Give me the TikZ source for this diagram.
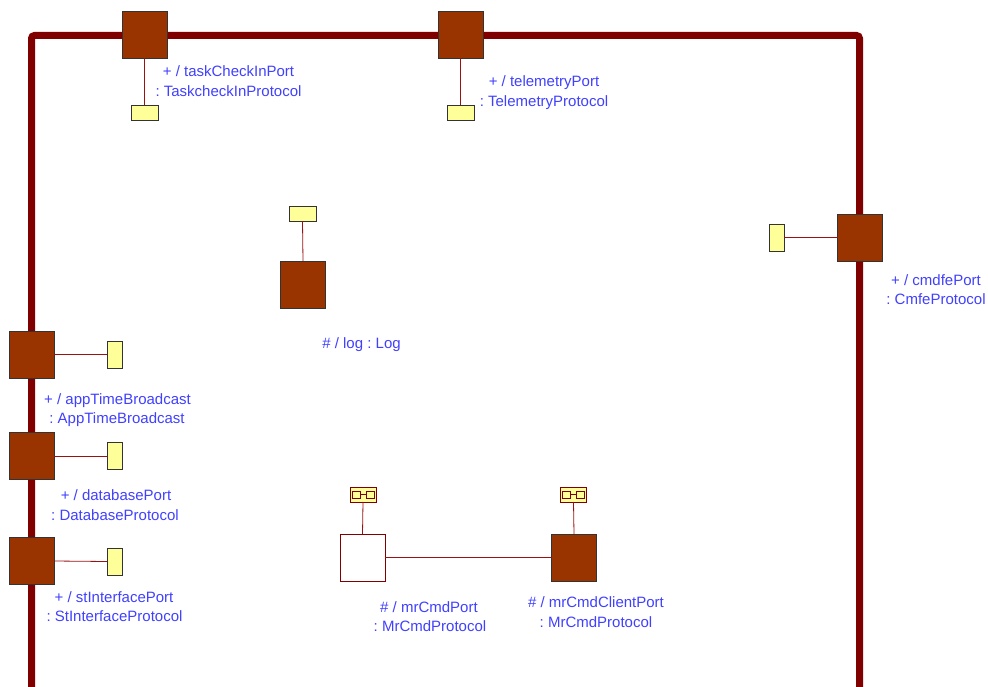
\documentclass[tikz,border=0pt]{standalone}
\usepackage{fontspec}
\setmainfont{Liberation Sans}
\frenchspacing
\definecolor{framered}{RGB}{128,0,0}
\definecolor{portfill}{RGB}{153,51,0}
\definecolor{portedge}{RGB}{51,51,51}
\definecolor{endfill}{RGB}{255,255,153}
\definecolor{linkred}{RGB}{153,17,17}
\definecolor{lblblue}{RGB}{64,64,255}
\begin{document}
\begin{tikzpicture}[x=1pt,y=-1pt,
  port/.style={draw=portedge, fill=portfill, line width=0.9pt,
    minimum width=45pt, minimum height=47pt, inner sep=0pt, outer sep=0pt},
  hollowport/.style={port, draw=framered, fill=white},
  endh/.style={draw=portedge, fill=endfill, line width=0.8pt,
    minimum width=27pt, minimum height=15pt, inner sep=0pt, outer sep=0pt},
  endv/.style={endh, minimum width=15pt, minimum height=27pt},
  relayicon/.style={endh, minimum width=26pt, draw=framered,
    path picture={
      \draw[framered, line width=0.8pt]
        (path picture bounding box.center) ++(-11,-3.5) rectangle ++(8,7)
        (path picture bounding box.center) ++(-3,0) -- ++(6,0)
        (path picture bounding box.center) ++(3,-3.5) rectangle ++(8,7);
    }},
  link/.style={draw=linkred, line width=0.8pt},
  lbl/.style={text=lblblue, font=\fontsize{15}{18}\selectfont, anchor=base, inner sep=0pt},
]
\useasboundingbox (0,0) rectangle (988,687);
\clip (0,0) rectangle (988,687);

% capsule boundary
\draw[framered, line width=7pt, rounded corners=3pt]
  (31.5,700) -- (31.5,35.5) -- (859.5,35.5) -- (859.5,700);

% boundary ports with their connection ends
\node[port] (taskport) at (144.5,34.5) {};
\node[endh] (taskend) at (144.5,112.5) {};
\draw[link] (taskport.south) -- (taskend.north);
\node[lbl] (tasklbla) at (228.5,77) {+ / taskCheckInPort};
\node[lbl] (tasklblb) at (228.5,96.5) {: TaskcheckInProtocol};

\node[port] (telport) at (460.5,34.5) {};
\node[endh] (telend) at (460.5,112.5) {};
\draw[link] (telport.south) -- (telend.north);
\node[lbl] (tellbla) at (544,86.5) {+ / telemetryPort};
\node[lbl] (tellblb) at (544,107) {: TelemetryProtocol};

\node[port] (cmdfeport) at (860,237.5) {};
\node[endv] (cmdfeend) at (776.5,237.5) {};
\draw[link] (cmdfeport.west) -- (cmdfeend.east);
\node[lbl] (cmdfelbla) at (936,285) {+ / cmdfePort};
\node[lbl] (cmdfelblb) at (936,304) {: CmfeProtocol};

\node[port] (timeport) at (31.5,354.5) {};
\node[endv] (timeend) at (114.5,354.5) {};
\draw[link] (timeport.east) -- (timeend.west);
\node[lbl] (timelbla) at (117.5,404) {+ / appTimeBroadcast};
\node[lbl] (timelblb) at (117,423.5) {: AppTimeBroadcast};

\node[port] (dbport) at (31.5,456) {};
\node[endv] (dbend) at (114.5,456) {};
\draw[link] (dbport.east) -- (dbend.west);
\node[lbl] (dblbla) at (116,500) {+ / databasePort};
\node[lbl] (dblblb) at (115,520) {: DatabaseProtocol};

\node[port] (stport) at (31.5,561) {};
\node[endv] (stend) at (114.5,561.5) {};
\draw[link] (stport.east) -- (stend.west);
\node[lbl] (stlbla) at (114,602.5) {+ / stInterfacePort};
\node[lbl] (stlblb) at (114.5,621.5) {: StInterfaceProtocol};

% internal parts
\node[port] (logport) at (303,284.5) {};
\node[endh] (logend) at (302.5,214) {};
\draw[link] (logport.north) -- (logend.south);
\node[lbl] (loglbl) at (361.5,348) {\# / log : Log};

\node[hollowport] (mrport) at (362.5,557.5) {};
\node[relayicon] (mricon) at (363,494.5) {};
\draw[link] (mrport.north) -- (mricon.south);
\node[lbl] (mrlbla) at (429,612.5) {\# / mrCmdPort};
\node[lbl] (mrlblb) at (430,631.5) {: MrCmdProtocol};

\node[port] (clientport) at (574,557.5) {};
\node[relayicon] (clienticon) at (573.5,494.5) {};
\draw[link] (clientport.north) -- (clienticon.south);
\node[lbl] (clientlbla) at (596,607) {\# / mrCmdClientPort};
\node[lbl] (clientlblb) at (596,627) {: MrCmdProtocol};

\draw[link] (mrport.east) -- (clientport.west);
\end{tikzpicture}
\end{document}
